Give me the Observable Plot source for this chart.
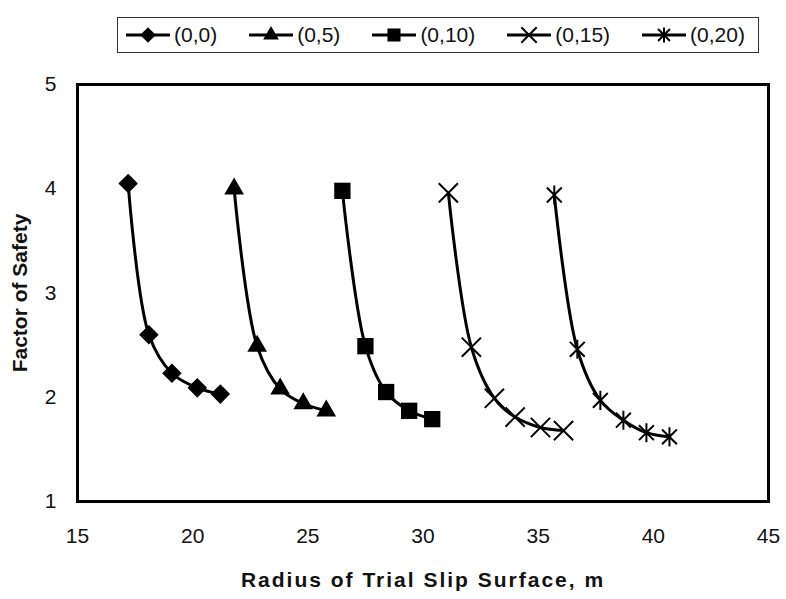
<!DOCTYPE html>
<html>
<head>
<meta charset="utf-8">
<script src="https://cdn.jsdelivr.net/npm/d3@7"></script>
<script src="https://cdn.jsdelivr.net/npm/@observablehq/plot@0.6"></script>
<style>
  html, body { margin: 0; padding: 0; background: #fff; }
  #wrap { position: relative; width: 786px; height: 599px; font-family: "Liberation Sans", Arial, sans-serif; }
  #legend { position: absolute; left: 117px; top: 17px; width: 620px; height: 34px; border: 1.5px solid #333;
            display: flex; align-items: center; justify-content: space-between; padding: 0 13px 0 7px; }
  .item { display: flex; align-items: center; font-size: 21px; color: #111; }
  .item svg { margin-right: 3px; }
  #chart { position: absolute; left: 0; top: 70px; }
</style>
</head>
<body>
<div id="wrap">
  <div id="legend"></div>
  <div id="chart"></div>
</div>
<script>
// Series names (legend labels)
const seriesNames = ["(0,0)", "(0,5)", "(0,10)", "(0,15)", "(0,20)"];
const seriesSymbols = ["diamond2", "triangle", "square", "times", "star"];

// Radius of trial slip surface (m) and factor of safety per series
const radius00 = [17.2, 18.1, 19.1, 20.2, 21.2];
const fos00    = [4.05, 2.60, 2.23, 2.09, 2.03];
const radius05 = [21.8, 22.8, 23.8, 24.8, 25.8];
const fos05    = [4.00, 2.49, 2.08, 1.94, 1.87];
const radius10 = [26.5, 27.5, 28.4, 29.4, 30.4];
const fos10    = [3.98, 2.49, 2.05, 1.87, 1.79];
const radius15 = [31.1, 32.1, 33.1, 34.0, 35.1, 36.1];
const fos15    = [3.96, 2.48, 1.99, 1.81, 1.71, 1.68];
const radius20 = [35.7, 36.7, 37.7, 38.7, 39.7, 40.7];
const fos20    = [3.94, 2.46, 1.97, 1.78, 1.66, 1.62];

// Axis ticks
const xTicks = [15, 20, 25, 30, 35, 40, 45];
const yTicks = [1, 2, 3, 4, 5];

const radii = [radius00, radius05, radius10, radius15, radius20];
const foss  = [fos00, fos05, fos10, fos15, fos20];

const data = [];
seriesNames.forEach((s, i) => {
  radii[i].forEach((r, j) => data.push({series: s, radius: r, fos: foss[i][j]}));
});

// Excel-like star marker: an X plus a vertical bar
const excelStar = {
  draw(context, size) {
    const r = Math.sqrt(size) * 0.56;
    const d = r * 0.78;
    context.moveTo(0, -r); context.lineTo(0, r);
    context.moveTo(-d, -d); context.lineTo(d, d);
    context.moveTo(-d, d); context.lineTo(d, -d);
  }
};
const symbolObjs = {diamond2: d3.symbolDiamond2, triangle: d3.symbolTriangle, square: d3.symbolSquare, times: d3.symbolTimes, star: excelStar};

const filled = new Set(["diamond2", "triangle", "square"]);
const symbolSize = {diamond2: 8.8, triangle: 7.3, square: 9.2, times: 8.8, star: 9.6};

const dotMarks = seriesNames.map((s, i) => {
  const sym = seriesSymbols[i];
  const isFilled = filled.has(sym);
  return Plot.dot(data.filter(d => d.series === s), {
    x: "radius", y: "fos",
    symbol: () => symbolObjs[sym],
    r: symbolSize[sym],
    fill: isFilled ? "#000" : "none",
    stroke: "#000",
    strokeWidth: isFilled ? 0 : 2
  });
});

const chart = Plot.plot({
  width: 786,
  height: 529,
  marginTop: 14,
  marginBottom: 98,
  marginLeft: 77,
  marginRight: 18,
  style: {fontFamily: "'Liberation Sans', Arial, sans-serif", fontSize: "21px", color: "#111", background: "#fff"},
  x: {domain: [15, 45], ticks: xTicks},
  y: {domain: [1, 5], ticks: yTicks},
  symbol: {type: "identity"},
  marks: [
    Plot.axisX(xTicks, {tickSize: 0, tickPadding: 27, label: null, fontSize: 21, tickFormat: d => String(d)}),
    Plot.axisY(yTicks, {tickSize: 0, tickPadding: 21, label: null, fontSize: 21, tickFormat: d => String(d)}),
    Plot.line(data, {x: "radius", y: "fos", z: "series", curve: "catmull-rom", stroke: "#000", strokeWidth: 3}),
    ...dotMarks,
    Plot.frame({stroke: "#000", strokeWidth: 3}),
    Plot.text(["Radius of Trial Slip Surface, m"], {frameAnchor: "bottom", dy: 79, fontSize: 21, fontWeight: "bold", lineAnchor: "middle", textAnchor: "middle", fill: "#111"}),
    Plot.text(["Factor of Safety"], {frameAnchor: "left", dx: -57, rotate: -90, fontSize: 21, fontWeight: "bold", lineAnchor: "middle", textAnchor: "middle", fill: "#111"})
  ]
});
// wider letter spacing for the x-axis title, as in the reference
d3.select(chart).selectAll("text").filter(function() { return this.textContent === "Radius of Trial Slip Surface, m"; })
  .attr("letter-spacing", "2px");
document.getElementById("chart").appendChild(chart);

// Legend
const legend = document.getElementById("legend");
seriesNames.forEach((s, i) => {
  const sym = seriesSymbols[i];
  const item = document.createElement("div");
  item.className = "item";
  const svg = d3.create("svg").attr("width", 46).attr("height", 24);
  svg.append("line").attr("x1", 1).attr("x2", 45).attr("y1", 12).attr("y2", 12).attr("stroke", "#000").attr("stroke-width", 3);
  const sz = Math.PI * Math.pow(symbolSize[sym] * 0.8, 2);
  svg.append("path").attr("transform", "translate(23,12)")
    .attr("d", d3.symbol(symbolObjs[sym], sz)())
    .attr("fill", filled.has(sym) ? "#000" : "none")
    .attr("stroke", filled.has(sym) ? "none" : "#000")
    .attr("stroke-width", 2);
  item.appendChild(svg.node());
  const t = document.createElement("span");
  t.textContent = s;
  item.appendChild(t);
  legend.appendChild(item);
});
</script>
</body>
</html>
